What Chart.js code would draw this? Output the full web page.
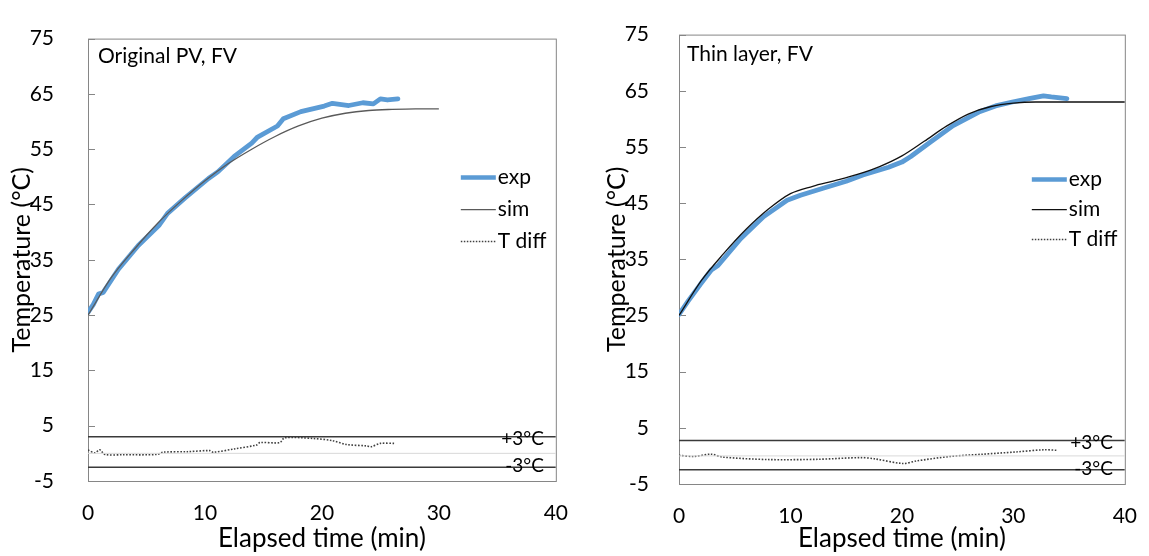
<!DOCTYPE html>
<html lang="en">
<head>
<meta charset="UTF-8">
<title>Temperature: exp vs sim</title>
<style>
  body { margin: 0; background: #fff; }
  #wrap { position: relative; width: 1149px; height: 556px; }
  .box { position: absolute; top: 0; height: 556px; }
  #box-left { left: 0; width: 580px; }
  #box-right { left: 590px; width: 559px; }
</style>
</head>
<body>
<div id="wrap">
  <div class="box" id="box-left"><canvas id="chart-left"></canvas></div>
  <div class="box" id="box-right"><canvas id="chart-right"></canvas></div>
</div>

<script src="https://cdn.jsdelivr.net/npm/chart.js@4.4.0/dist/chart.umd.min.js"></script>
<script>
// ---- data (time in min, temperature in °C) ----
const leftExpTime = [0, 0.45, 0.9, 1.3, 2.6, 4.3, 6.1, 6.8, 8.3, 10.3, 11.1, 12.5, 14.0, 14.5, 16.2, 16.7, 18.2, 20.2, 20.9, 22.3, 23.5, 24.4, 25.0, 25.6, 26.5];
const leftExpTemp = [25.5, 26.9, 28.8, 29.1, 33.3, 37.6, 41.3, 43.4, 46.2, 49.7, 50.9, 53.7, 56.1, 57.2, 59.2, 60.5, 61.8, 62.8, 63.3, 62.9, 63.4, 63.2, 64.1, 63.9, 64.1];
const leftSimTime = [0, 2, 4, 6, 8, 10, 12, 14, 16, 18, 20, 22, 24, 26, 28, 30];
const leftSimTemp = [25, 31.8, 37.0, 41.7, 45.7, 49.3, 52.4, 55.0, 57.3, 59.2, 60.6, 61.5, 62.0, 62.2, 62.3, 62.3];
const leftDiffTime = [0, 0.6, 1.0, 1.45, 3, 5.9, 6.4, 8.5, 10.4, 10.7, 12.5, 14.4, 14.7, 16.4, 16.8, 19.2, 20.9, 22.1, 23.8, 24.2, 25.0, 26.2];
const leftDiffTemp = [0.6, 0.1, 0.65, -0.2, -0.25, -0.2, 0.2, 0.3, 0.5, 0.2, 0.8, 1.5, 1.95, 1.95, 2.8, 2.7, 2.3, 1.6, 1.35, 1.2, 1.8, 1.8];

const rightExpTime = [0, 0.8, 1.9, 2.9, 3.5, 5.55, 7.6, 9.7, 10.9, 13.0, 15.0, 16.5, 18.8, 20.0, 20.8, 22.5, 24.6, 26.9, 28.4, 29.9, 31.4, 32.7, 33.4, 34.8];
const rightExpTemp = [25.2, 27.5, 30.5, 33.1, 33.9, 38.7, 42.6, 45.5, 46.4, 47.7, 48.9, 50.0, 51.4, 52.3, 53.3, 55.8, 58.8, 61.2, 62.3, 63.0, 63.6, 64.1, 63.9, 63.6];
const rightSimTime = [0, 2, 4, 6, 8, 10, 12, 14, 16, 18, 20, 22, 24, 26, 28, 30, 32, 34, 36, 38, 40];
const rightSimTemp = [25, 31.2, 36.0, 40.3, 43.9, 46.7, 48.0, 49.0, 50.1, 51.5, 53.4, 56.0, 58.7, 60.9, 62.2, 62.8, 63.0, 63.0, 63.0, 63.0, 63.0];
const rightDiffTime = [0, 1.3, 2.9, 3.9, 8.0, 12.5, 16.3, 17.5, 20.1, 21.3, 24.3, 27.2, 30.2, 32.8, 33.9];
const rightDiffTemp = [0.1, -0.1, 0.3, -0.2, -0.65, -0.6, -0.3, -0.5, -1.35, -0.9, -0.1, 0.3, 0.7, 1.1, 1.0];

// tolerance band lines as drawn (+3 / -3 °C) and the zero line
const leftBand = [3, -2.5];
const rightBand = [2.75, -2.45];
const bandLabels = ['+3°C', '-3°C'];
const timeRange = [0, 40];
const seriesNames = ['exp', 'sim', 'T diff'];

const FONT = 'Lato, "Open Sans", sans-serif';
const EXP_COLOR = '#5b9bd5';

function pts(xs, ys) {
    return xs.map((x, i) => ({ x: x, y: ys[i] }));
}

function flat(y) {
    return timeRange.map(x => ({ x: x, y: y }));
}

// frame, inside tick marks, panel title, band labels and legend
const decor = {
    id: 'decor',
    beforeDatasetsDraw(chart, args, opts) {
        const { ctx, chartArea: a, scales: { y } } = chart;
        ctx.save();
        ctx.strokeStyle = '#868686';
        ctx.lineWidth = 1;
        ctx.strokeRect(a.left + 0.5, a.top + 0.5, a.right - a.left, a.bottom - a.top);
        y.ticks.forEach(t => {
            const py = Math.round(y.getPixelForValue(t.value)) + 0.5;
            ctx.beginPath();
            ctx.moveTo(a.left, py);
            ctx.lineTo(a.left + 7, py);
            ctx.stroke();
        });
        ctx.restore();
    },
    afterDatasetsDraw(chart, args, opts) {
        const { ctx, chartArea: a, scales: { y } } = chart;
        ctx.save();
        ctx.fillStyle = '#000';
        ctx.font = '21px ' + FONT;
        ctx.textBaseline = 'alphabetic';
        ctx.textAlign = 'left';
        ctx.fillText(opts.title, a.left + opts.titleDx, a.top + opts.titleDy);

        // band labels
        ctx.textAlign = 'right';
        ctx.textBaseline = 'middle';
        ctx.font = '19px ' + FONT;
        opts.band.forEach((v, i) => {
            ctx.fillText(bandLabels[i], a.right - 12, y.getPixelForValue(v) + (i === 0 ? 2 : -1));
        });

        // legend
        ctx.textAlign = 'left';
        ctx.font = '21px ' + FONT;
        const x0 = a.right - opts.legendDx;
        seriesNames.forEach((name, i) => {
            const ly = a.top + opts.legendDy + i * opts.legendGap;
            ctx.beginPath();
            ctx.moveTo(x0, ly);
            ctx.lineTo(x0 + 35, ly);
            if (i === 0) {
                ctx.strokeStyle = EXP_COLOR; ctx.lineWidth = 4.5; ctx.setLineDash([]);
            } else if (i === 1) {
                ctx.strokeStyle = opts.simColor; ctx.lineWidth = 1.3; ctx.setLineDash([]);
            } else {
                ctx.strokeStyle = '#404040'; ctx.lineWidth = 1.5; ctx.setLineDash([1.5, 1.5]);
            }
            ctx.stroke();
            ctx.setLineDash([]);
            ctx.fillText(name, x0 + 37, ly);
        });
        ctx.restore();
    }
};

function makeChart(id, p) {
    return new Chart(document.getElementById(id), {
        type: 'scatter',
        data: {
            datasets: [
                { data: flat(0), borderColor: '#d9d9d9', borderWidth: 1, showLine: true, pointRadius: 0 },
                { data: flat(p.band[0]), borderColor: '#3a3a3a', borderWidth: 1.5, showLine: true, pointRadius: 0 },
                { data: flat(p.band[1]), borderColor: '#3a3a3a', borderWidth: 1.5, showLine: true, pointRadius: 0 },
                { label: 'T diff', data: pts(p.diffT, p.diffV), borderColor: '#404040', borderWidth: 1.6,
                  borderDash: [1.6, 1.6], showLine: true, pointRadius: 0, tension: 0.3 },
                { label: 'sim', data: pts(p.simT, p.simV), borderColor: p.simColor, borderWidth: 1.3,
                  showLine: true, pointRadius: 0, cubicInterpolationMode: 'monotone' },
                { label: 'exp', data: pts(p.expT, p.expV), borderColor: EXP_COLOR, borderWidth: 4.8,
                  showLine: true, pointRadius: 0, borderJoinStyle: 'round', borderCapStyle: 'round' }
            ]
        },
        options: {
            responsive: true,
            maintainAspectRatio: false,
            animation: false,
            layout: { autoPadding: false, padding: { top: p.padTop, right: p.padRight, left: 0, bottom: 0 } },
            plugins: {
                legend: { display: false },
                tooltip: { enabled: false },
                decor: p.decor
            },
            scales: {
                x: {
                    type: 'linear',
                    min: timeRange[0], max: timeRange[1],
                    ticks: { stepSize: 10, color: '#000', padding: 12, font: { family: FONT, size: 21 } },
                    grid: { display: false },
                    border: { display: false },
                    title: { display: true, text: 'Elapsed time (min)', color: '#000',
                             padding: { top: 0, bottom: 2 }, font: { family: FONT, size: 26 } },
                    afterFit: s => { s.height = p.xHeight; }
                },
                y: {
                    min: -5, max: 75,
                    ticks: { stepSize: 10, color: '#000', padding: p.yTickPad, font: { family: FONT, size: 21 } },
                    grid: { display: false },
                    border: { display: false },
                    title: { display: true, text: 'Temperature (°C)', color: '#000',
                             padding: { top: p.yTitlePad, bottom: 0 }, font: { family: FONT, size: 25 } },
                    afterFit: s => { s.width = p.yWidth; }
                }
            }
        },
        plugins: [decor]
    });
}

makeChart('chart-left', {
    expT: leftExpTime, expV: leftExpTemp,
    simT: leftSimTime, simV: leftSimTemp,
    diffT: leftDiffTime, diffV: leftDiffTemp,
    band: leftBand, simColor: '#5a5a5a',
    padTop: 19, padRight: 23, xHeight: 75, yWidth: 88, yTickPad: 26, yTitlePad: 7,
    decor: { title: 'Original PV, FV', titleDx: 10, titleDy: 24, band: leftBand, simColor: '#5a5a5a',
             legendDx: 95, legendDy: 139, legendGap: 32 }
});

makeChart('chart-right', {
    expT: rightExpTime, expV: rightExpTemp,
    simT: rightSimTime, simV: rightSimTemp,
    diffT: rightDiffTime, diffV: rightDiffTemp,
    band: rightBand, simColor: '#111',
    padTop: 32, padRight: 18, xHeight: 72, yWidth: 89, yTickPad: 22, yTitlePad: 12,
    decor: { title: 'Thin layer, FV', titleDx: 8, titleDy: 26, band: rightBand, simColor: '#111',
             legendDx: 93, legendDy: 145, legendGap: 30 }
});
</script>
</body>
</html>
